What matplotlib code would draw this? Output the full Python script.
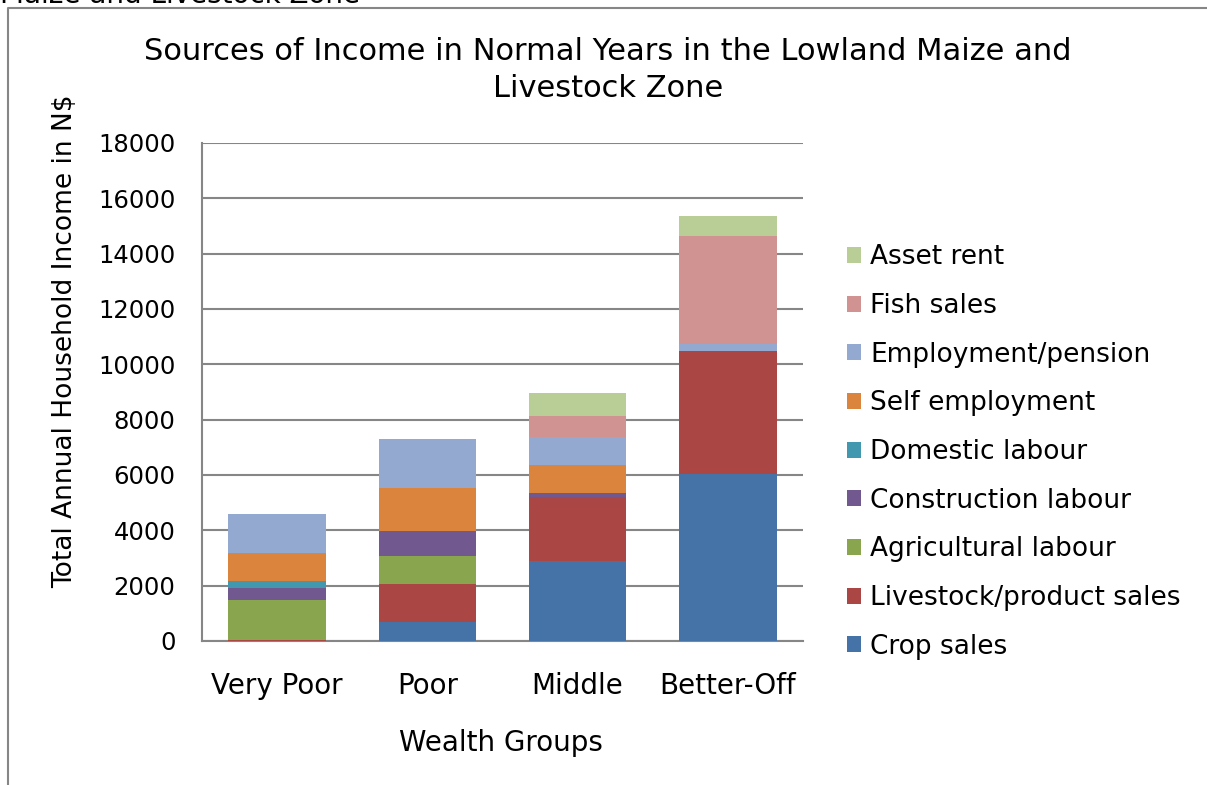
import matplotlib.pyplot as plt
from matplotlib.lines import Line2D
import numpy as np

groups = ['Very Poor', 'Poor', 'Middle', 'Better-Off']
sources = ['Crop sales', 'Livestock/product sales', 'Agricultural labour',
           'Construction labour', 'Domestic labour', 'Self employment',
           'Employment/pension', 'Fish sales', 'Asset rent']
colors = ['#4572A7', '#AA4643', '#89A54E', '#71588F', '#4198AF',
          '#DB843D', '#93A9CF', '#D19392', '#B9CD96']

crop_sales = [0, 680, 2900, 6030]
livestock_sales = [50, 1380, 2310, 4460]
agri_labour = [1430, 1010, 0, 0]
construction_labour = [420, 900, 150, 0]
domestic_labour = [270, 0, 0, 0]
self_employment = [1000, 1570, 1000, 0]
employment_pension = [1410, 1770, 1030, 240]
fish_sales = [0, 0, 760, 3910]
asset_rent = [0, 0, 830, 720]

series = [crop_sales, livestock_sales, agri_labour, construction_labour,
          domestic_labour, self_employment, employment_pension, fish_sales, asset_rent]

W, H = 1207, 785
fig = plt.figure(figsize=(W / 100, H / 100), dpi=100)
plt.rcParams['font.family'] = ['DejaVu Sans']
ax = fig.add_axes([202 / W, 1 - 641 / H, (803 - 202) / W, (641 - 143) / H])

x = np.arange(len(groups))
bottom = np.zeros(len(groups))
handles = []
for vals, c, name in zip(series, colors, sources):
    vals = np.array(vals, dtype=float)
    b = ax.bar(x, vals, width=0.65, bottom=bottom, color=c, label=name, zorder=3)
    handles.append(b)
    bottom += vals

ax.set_xlim(-0.5, 3.5)
ax.set_ylim(0, 18000)
ax.set_yticks(range(0, 18001, 2000))
ax.yaxis.grid(True, color='#868686', lw=1.5, zorder=0)
ax.set_axisbelow(True)
for s in ['top', 'right']:
    ax.spines[s].set_visible(False)
for s in ['left', 'bottom']:
    ax.spines[s].set_color('#868686')
    ax.spines[s].set_linewidth(1.5)
ax.tick_params(axis='y', length=0, labelsize=17.5, pad=19)
ax.tick_params(axis='x', length=0, labelsize=20, pad=22)
ax.set_xticks(x)
ax.set_xticklabels(groups)

fig.legend(handles[::-1], sources[::-1], loc='center left',
           bbox_to_anchor=(823 / W, 1 - 452 / H), frameon=False, fontsize=19,
           handlelength=0.55, handleheight=0.55, handletextpad=0.35, labelspacing=0.86)

fig.text(608 / W, 1 - 70 / H, 'Sources of Income in Normal Years in the Lowland Maize and\nLivestock Zone',
         ha='center', va='center', fontsize=22, linespacing=1.35)
fig.text(65 / W, 1 - 341 / H, 'Total Annual Household Income in N$', rotation=90,
         ha='center', va='center', fontsize=19)
fig.text(501 / W, 1 - 743 / H, 'Wealth Groups', ha='center', va='center', fontsize=20)
# heading of the page above the chart, cut by the top edge as in the source
fig.text(0.0, 1 - 3 / H, 'Maize and Livestock Zone', ha='left', va='baseline', fontsize=20)

fig.add_artist(Line2D([8 / W, 8 / W, 1], [0, 1 - 8 / H, 1 - 8 / H],
                      transform=fig.transFigure, color='#868686', lw=1.5))

fig.savefig('out.png', dpi=100)
